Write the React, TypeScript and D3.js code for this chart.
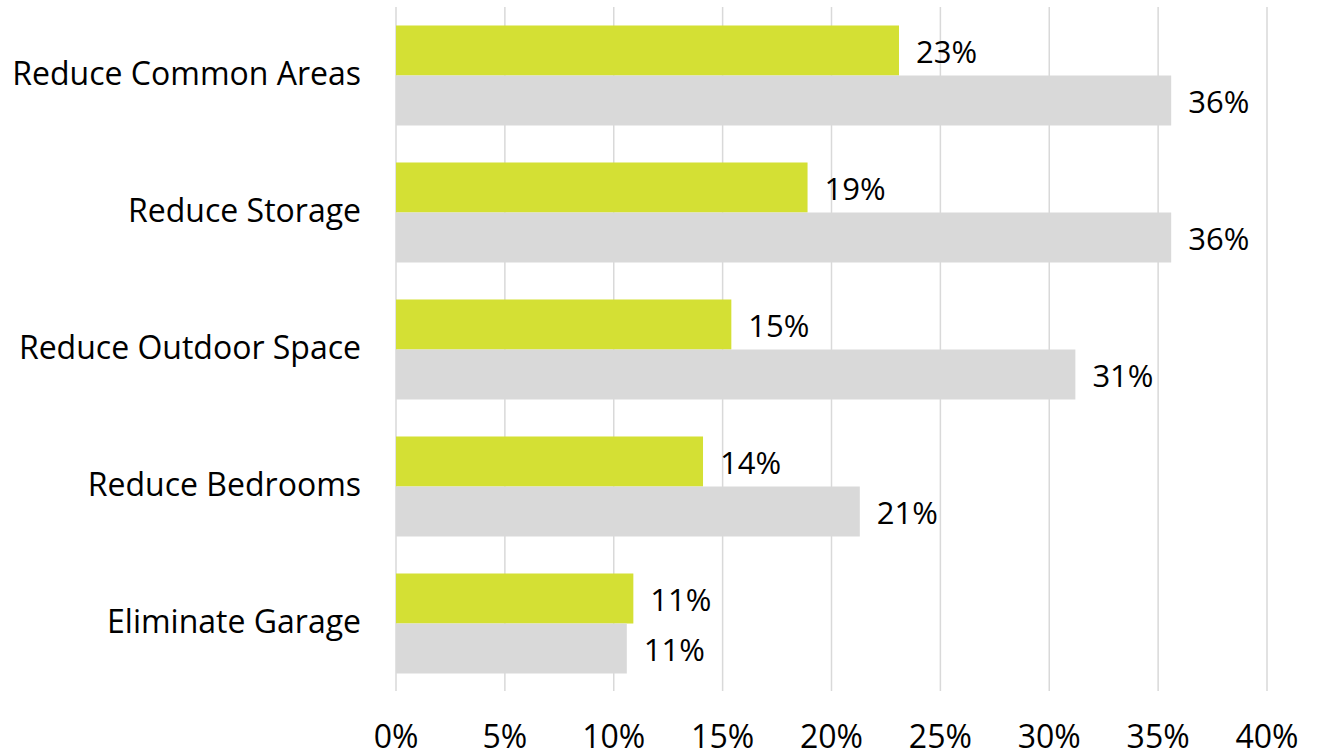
import React from "react";
import * as d3 from "d3";

const categories = ["Reduce Common Areas", "Reduce Storage", "Reduce Outdoor Space", "Reduce Bedrooms", "Eliminate Garage"];
const seriesGreen = [23.1, 18.9, 15.4, 14.1, 10.9];
const seriesGray = [35.6, 35.6, 31.2, 21.3, 10.6];
const xTicks = [0, 5, 10, 15, 20, 25, 30, 35, 40];

const W = 1324;
const H = 753;
const FONT = "'Open Sans', sans-serif";

export default function App() {
  const x = d3.scaleLinear().domain([0, 40]).range([396, 1267]);
  const y = d3.scaleBand().domain(categories).range([7, 692]).paddingInner(0.27).paddingOuter(0.135);
  const sub = d3.scaleBand().domain(["green", "gray"]).range([0, y.bandwidth()]);
  const series = [
    { key: "green", values: seriesGreen, color: "#D4E034" },
    { key: "gray", values: seriesGray, color: "#D9D9D9" },
  ];
  return (
    <svg width={W} height={H} style={{ position: "absolute", left: 0, top: 0, background: "#fff" }}>
      {xTicks.map((t) => (
        <line key={t} x1={x(t)} x2={x(t)} y1={7} y2={691} stroke="#D9D9D9" strokeWidth={1.5} />
      ))}
      {series.map((s) =>
        s.values.map((v, i) => {
          const yy = (y(categories[i]) as number) + (sub(s.key) as number);
          return (
            <g key={s.key + i}>
              <rect x={x(0)} y={yy} width={x(v) - x(0)} height={sub.bandwidth()} fill={s.color} />
              <text x={x(v) + 17} y={yy + sub.bandwidth() / 2} dy="0.4em" fontFamily={FONT} fontSize={31} fill="#000">
                {Math.round(v)}%
              </text>
            </g>
          );
        })
      )}
      {categories.map((c) => (
        <text key={c} x={361} y={(y(c) as number) + y.bandwidth() / 2} dy="0.31em" textAnchor="end" fontFamily={FONT} fontSize={32} fill="#000">
          {c}
        </text>
      ))}
      {xTicks.map((t) => (
        <text key={"l" + t} x={x(t)} y={748} textAnchor="middle" fontFamily={FONT} fontSize={32} fill="#000">
          {t}%
        </text>
      ))}
    </svg>
  );
}
